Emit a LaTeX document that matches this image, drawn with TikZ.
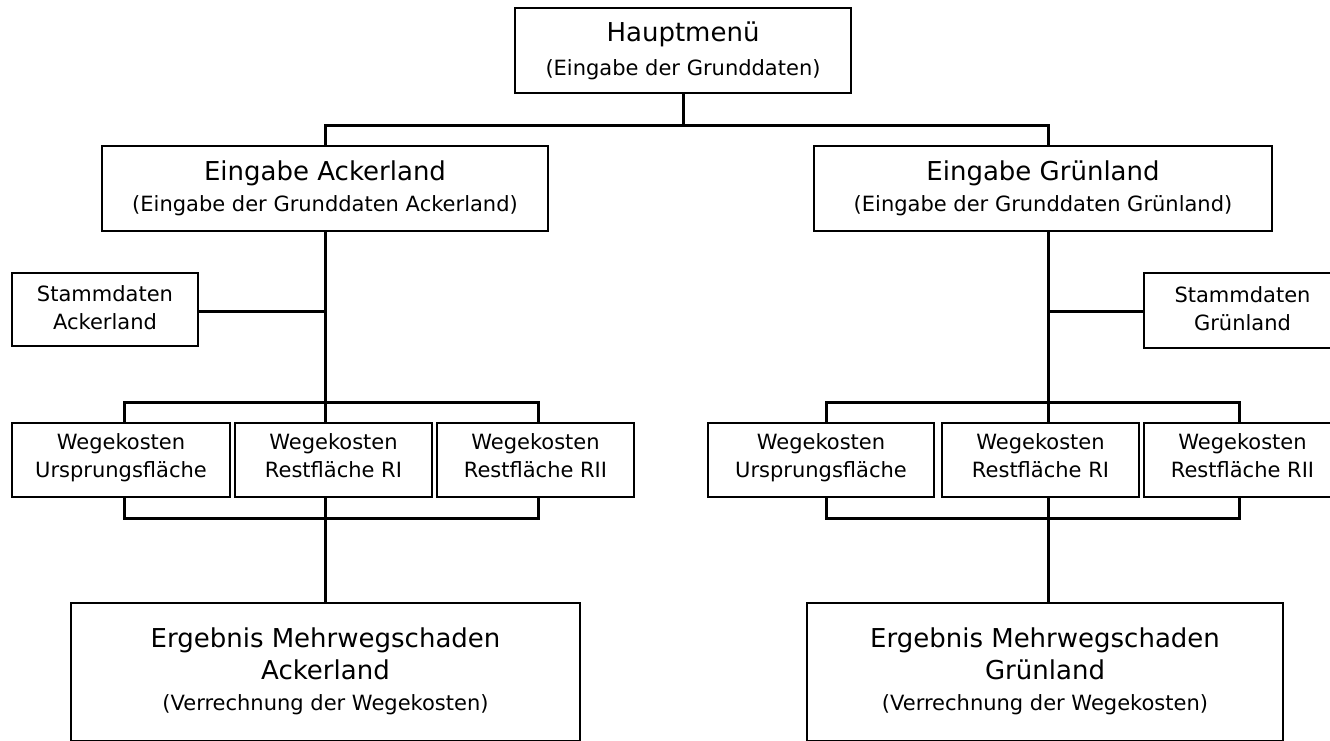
\documentclass[tikz,border=0pt]{standalone}
\usepackage{fontspec}
\setmainfont{DejaVu Sans}
\newcommand{\dpA}{\rule[-9pt]{0pt}{9pt}}
\newcommand{\dpB}{\rule[-4pt]{0pt}{4pt}}
\begin{document}
\begin{tikzpicture}[x=1pt,y=-1pt,
  box/.style={draw=black, line width=2pt, inner sep=0pt, align=center, fill=white},
  mid/.style={font=\fontsize{21}{28}\selectfont},
  conn/.style={draw=black, line width=3pt, line join=miter}]
\useasboundingbox (0,0) rectangle (1330,740);
\fill[white] (0,0) rectangle (1330,740);
% boxes
\node[box, minimum width=336pt, minimum height=85pt, font=\fontsize{26}{34}\selectfont] (hm) at (683,50.5)
  {Hauptmenü\\{\fontsize{21}{34}\selectfont (Eingabe der Grunddaten)}};
\node[box, minimum width=446pt, minimum height=85pt, font=\fontsize{26}{31}\selectfont] (ea) at (325,188.5)
  {Eingabe Ackerland\\{\fontsize{21}{31}\selectfont (Eingabe der Grunddaten Ackerland)}};
\node[box, minimum width=458pt, minimum height=85pt, font=\fontsize{26}{31}\selectfont] (eg) at (1043,188.5)
  {Eingabe Grünland\\{\fontsize{21}{31}\selectfont (Eingabe der Grunddaten Grünland)}};
\node[box, mid, minimum width=186pt, minimum height=73pt] (sa) at (105,309.5) {Stammdaten\\Ackerland\dpB};
\node[box, mid, minimum width=197pt, minimum height=75pt] (sg) at (1242.5,310.5) {Stammdaten\\Grünland\dpB};
\node[box, mid, minimum width=218pt, minimum height=74pt] (aw1) at (121,460) {Wegekosten\\Ursprungsfläche\dpA};
\node[box, mid, minimum width=197pt, minimum height=74pt] (aw2) at (333.5,460) {Wegekosten\\Restfläche RI\dpA};
\node[box, mid, minimum width=197pt, minimum height=74pt] (aw3) at (535.5,460) {Wegekosten\\Restfläche RII\dpA};
\node[box, mid, minimum width=226pt, minimum height=74pt] (gw1) at (821,460) {Wegekosten\\Ursprungsfläche\dpA};
\node[box, mid, minimum width=197pt, minimum height=74pt] (gw2) at (1040.5,460) {Wegekosten\\Restfläche RI\dpA};
\node[box, mid, minimum width=197pt, minimum height=74pt] (gw3) at (1242.5,460) {Wegekosten\\Restfläche RII\dpA};
\node[box, minimum width=509pt, minimum height=137.5pt, font=\fontsize{26}{31.5}\selectfont] (ar) at (325.5,671.75)
  {Ergebnis Mehrwegschaden\\Ackerland\\{\fontsize{21}{31.5}\selectfont (Verrechnung der Wegekosten)}};
\node[box, minimum width=476pt, minimum height=137.5pt, font=\fontsize{26}{31.5}\selectfont] (gr) at (1045,671.75)
  {Ergebnis Mehrwegschaden\\Grünland\\{\fontsize{21}{31.5}\selectfont (Verrechnung der Wegekosten)}};
% junction coordinates
\coordinate (top) at (683,125);
\coordinate (jA) at (325,125);
\coordinate (jG) at (1048,125);
\coordinate (aS) at (325,311);
\coordinate (aT) at (325,402);
\coordinate (aTL) at (124,402);
\coordinate (aTR) at (538,402);
\coordinate (aB) at (325,518);
\coordinate (aBL) at (124,518);
\coordinate (aBR) at (538,518);
\coordinate (gS) at (1048,311);
\coordinate (gT) at (1048,402);
\coordinate (gTL) at (826,402);
\coordinate (gTR) at (1239,402);
\coordinate (gB) at (1048,518);
\coordinate (gBL) at (826,518);
\coordinate (gBR) at (1239,518);
% connectors
\draw[conn] (hm.south) -- (top);
\draw[conn] (ea.north -| jA) -- (jA) -- (jG) -- (eg.north -| jG);
% Ackerland branch
\draw[conn] (ea.south -| aT) -- (aT);
\draw[conn] (sa.east |- aS) -- (aS);
\draw[conn] (aw1.north -| aTL) -- (aTL) -- (aTR) -- (aw3.north -| aTR);
\draw[conn] (aT) -- (aw2.north -| aT);
\draw[conn] (aw1.south -| aBL) -- (aBL) -- (aBR) -- (aw3.south -| aBR);
\draw[conn] (aw2.south -| aB) -- (aB) -- (ar.north -| aB);
% Gruenland branch
\draw[conn] (eg.south -| gT) -- (gT);
\draw[conn] (gS) -- (sg.west |- gS);
\draw[conn] (gw1.north -| gTL) -- (gTL) -- (gTR) -- (gw3.north -| gTR);
\draw[conn] (gT) -- (gw2.north -| gT);
\draw[conn] (gw1.south -| gBL) -- (gBL) -- (gBR) -- (gw3.south -| gBR);
\draw[conn] (gw2.south -| gB) -- (gB) -- (gr.north -| gB);
\end{tikzpicture}
\end{document}
